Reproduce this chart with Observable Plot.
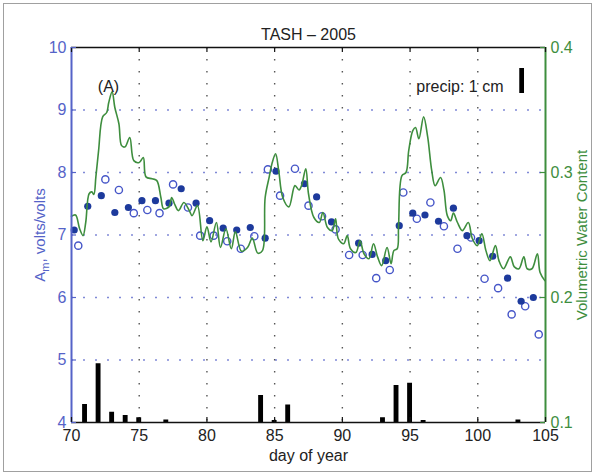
<!DOCTYPE html>
<html><head><meta charset="utf-8">
<script src="https://cdn.jsdelivr.net/npm/d3@7"></script>
<script src="https://cdn.jsdelivr.net/npm/@observablehq/plot@0.6"></script>
<style>
body{margin:0;background:#fff;}
#wrap{position:relative;width:596px;height:476px;overflow:hidden;}
#wrap svg{display:block;}
#border{position:absolute;left:3px;top:3px;width:589px;height:469px;border:1px solid #a0a0a0;box-sizing:border-box;pointer-events:none;}
</style></head><body><div id="wrap"><div id="border"></div></div>
<script>
// ---- data ----
const titleText = "TASH – 2005";
const xTicks = [70, 75, 80, 85, 90, 95, 100, 105];
const xGrid = [75, 80, 85, 90, 95, 100];
const leftTicks = [4, 5, 6, 7, 8, 9, 10];
const leftGrid = [5, 6, 7, 8, 9];
const vwcTicks = [0.1, 0.2, 0.3, 0.4];

// A_m, filled circles
const filledDay = [70.2,71.2,72.2,73.2,74.2,75.2,76.2,77.2,78.1,79.2,80.2,81.2,82.2,83.2,84.3,85.1,87.2,88.1,89.2,91.2,92.2,93.2,94.2,95.2,96.1,97.1,98.2,99.2,100.1,101.1,102.2,103.2,104.1];
const filledA   = [7.08,7.46,7.63,7.36,7.44,7.55,7.55,7.51,7.74,7.51,7.23,7.11,7.08,7.12,6.95,8.02,7.82,7.61,7.21,6.87,6.69,6.59,7.15,7.35,7.32,7.22,7.43,6.99,6.91,6.66,6.31,5.94,6.00];
// A_m, open circles
const openDay = [70.5,72.5,73.5,74.6,75.6,76.5,77.5,78.6,79.5,80.5,81.5,82.5,83.5,84.5,85.4,86.5,87.5,88.5,89.5,90.5,91.5,92.5,93.5,94.5,95.5,96.5,97.5,98.5,99.5,100.5,101.5,102.5,103.5,104.5];
const openA   = [6.83,7.89,7.72,7.35,7.40,7.35,7.81,7.44,6.99,6.99,6.90,6.78,6.98,8.05,7.63,8.06,7.47,7.30,7.09,6.68,6.68,6.31,6.44,7.68,7.26,7.52,7.14,6.78,6.96,6.30,6.15,5.73,5.86,5.41];

// Volumetric water content (right axis)
const vwcDay = [70.0,70.3,70.6,70.85,71.05,71.3,71.5,71.65,71.8,72.0,72.3,72.6,72.75,73.0,73.2,73.5,73.7,73.95,74.3,74.6,75.0,75.3,75.5,75.96,76.3,76.6,76.8,77.2,77.4,77.6,77.9,78.3,78.7,78.9,79.3,79.7,80.0,80.3,80.7,81.0,81.4,81.8,82.1,82.55,83.0,83.35,83.75,84.1,84.3,84.6,84.8,85.07,85.3,85.6,86.05,86.5,86.8,87.0,87.3,87.5,87.9,88.3,88.56,88.9,89.25,89.5,89.7,90.1,90.36,90.6,91.0,91.3,91.6,91.96,92.3,92.6,92.9,93.3,93.6,93.8,94.05,94.15,94.4,94.7,94.9,95.2,95.4,95.65,96.0,96.3,96.6,96.85,97.25,97.5,97.75,98.0,98.2,98.5,98.86,99.3,99.6,99.96,100.3,100.6,100.9,101.3,101.56,101.9,102.4,102.7,103.04,103.4,103.65,104.0,104.4,104.6,104.95];
const vwcVal = [0.265,0.266,0.255,0.2495,0.26,0.283,0.2845,0.2825,0.2965,0.3175,0.3445,0.348,0.356,0.3645,0.352,0.339,0.3215,0.3205,0.328,0.3095,0.308,0.312,0.2965,0.295,0.2935,0.28,0.271,0.2725,0.28,0.275,0.2695,0.276,0.2695,0.2655,0.2735,0.2455,0.2565,0.2445,0.26,0.24,0.255,0.239,0.2525,0.237,0.24,0.2475,0.2355,0.2375,0.28,0.2965,0.307,0.315,0.3015,0.28,0.2725,0.2895,0.286,0.29,0.303,0.283,0.264,0.26,0.268,0.256,0.2535,0.263,0.247,0.243,0.2495,0.239,0.236,0.2455,0.235,0.231,0.243,0.2325,0.2255,0.24,0.227,0.2375,0.239,0.2575,0.2975,0.30,0.3175,0.3335,0.336,0.327,0.3445,0.3285,0.3015,0.2895,0.296,0.286,0.2655,0.2615,0.2675,0.26,0.2535,0.26,0.247,0.2415,0.251,0.2375,0.2295,0.2415,0.2295,0.223,0.2325,0.2245,0.223,0.2325,0.223,0.223,0.235,0.22,0.2135];

// Daily precipitation, cm
const precipDay = [71,72,73,74,75,77,84,85,86,93,94,95,96,103];
const precipCm  = [0.72,2.35,0.41,0.28,0.19,0.10,1.08,0.08,0.70,0.19,1.48,1.57,0.08,0.10];
const legendCm = [1];

// ---- build ----
const precipUnit = 0.4; // left-axis units per cm of precipitation
const toLeft = v => 4 + (v - 0.1) / 0.05;
const fromLeft = a => 0.1 + (a - 4) * 0.05;
const filled = filledDay.map((d, i) => ({day: d, a: filledA[i]}));
const open = openDay.map((d, i) => ({day: d, a: openA[i]}));
const vwc = vwcDay.map((d, i) => ({day: d, v: vwcVal[i]}));
const precip = precipDay.map((d, i) => ({day: d, cm: precipCm[i]}));

const BLUE = "#5563c8", GREEN = "#3e8e3e", DOT = "#1d3a9c", RING = "#4656c8", INK = "#222";
const font = "'Liberation Sans', Arial, Helvetica, sans-serif";

const plot = Plot.plot({
  width: 596, height: 476,
  marginTop: 47, marginBottom: 54, marginLeft: 71, marginRight: 51,
  x: {domain: [70, 105], axis: null},
  y: {domain: [4, 10], axis: null},
  style: {fontFamily: font, fontSize: "16px", background: "white", color: INK},
  marks: [
    Plot.ruleX(xGrid, {stroke: "#555", strokeDasharray: "1.5,10.5", strokeWidth: 1.4}),
    Plot.ruleY(leftGrid, {stroke: BLUE, strokeDasharray: "2,10", strokeWidth: 1.5, strokeOpacity: 0.75}),
    Plot.rect(precip, {x1: d => d.day - 0.18, x2: d => d.day + 0.18, y1: 4, y2: d => 4 + d.cm * precipUnit, fill: "black"}),
    Plot.dot(open, {x: "day", y: "a", r: 3.6, stroke: RING, strokeWidth: 1.4, fill: "none"}),
    Plot.dot(filled, {x: "day", y: "a", r: 3.6, fill: DOT, stroke: "none"}),
    Plot.line(vwc, {x: "day", y: d => toLeft(d.v), stroke: GREEN, strokeWidth: 1.6, curve: "catmull-rom"}),
    // frame
    Plot.ruleY([4, 10], {stroke: "#111", strokeWidth: 1.5}),
    Plot.ruleX([70], {stroke: BLUE, strokeWidth: 2}),
    Plot.ruleX([105], {stroke: GREEN, strokeWidth: 2}),
    // inward ticks
    Plot.ruleX(xTicks, {y1: 4, y2: 4.08, stroke: "#111", strokeWidth: 1.2}),
    Plot.ruleX(xTicks, {y1: 10, y2: 9.92, stroke: "#111", strokeWidth: 1.2}),
    Plot.ruleY(leftTicks, {x1: 70, x2: 70.37, stroke: BLUE, strokeWidth: 1.2}),
    Plot.ruleY(vwcTicks.map(toLeft), {x1: 104.63, x2: 105, stroke: GREEN, strokeWidth: 1.2}),
    // tick labels
    Plot.axisX(xTicks, {tickSize: 0, tickPadding: 7, fill: INK, label: null, fontSize: 16, tickFormat: d => String(d)}),
    Plot.axisY(leftTicks, {anchor: "left", tickSize: 0, tickPadding: 5, fill: BLUE, label: null, fontSize: 16, tickFormat: d => String(d)}),
    Plot.axisY(vwcTicks.map(toLeft), {anchor: "right", tickSize: 0, tickPadding: 5, fill: GREEN, label: null, fontSize: 16, tickFormat: d => fromLeft(d).toFixed(1)}),
    // texts
    Plot.text([titleText], {frameAnchor: "top", dy: -19, fontSize: 16, fill: INK}),
    Plot.text(["day of year"], {frameAnchor: "bottom", dy: 38, fontSize: 16, fill: INK}),
    Plot.text(["Am, volts/volts"], {frameAnchor: "left", dx: -31, rotate: -90, textAnchor: "middle", fontSize: 15, fill: BLUE}),
    Plot.text(["Volumetric Water Content"], {frameAnchor: "right", dx: 37, rotate: -90, textAnchor: "middle", fontSize: 15, fill: GREEN}),
    Plot.text(["(A)"], {frameAnchor: "top-left", dx: 37, dy: 33, textAnchor: "middle", fontSize: 16, fill: INK}),
    Plot.text(["precip: 1 cm"], {frameAnchor: "top-right", dx: -42, dy: 33, textAnchor: "end", fontSize: 16, fill: INK}),
    Plot.rect(legendCm, {x1: 103.1, x2: 103.45, y1: 9.264, y2: d => 9.264 + d * precipUnit, fill: "black"})
  ]
});

// subscript m in the left axis label
d3.select(plot).selectAll("text").filter(function() { return this.textContent === "Am, volts/volts"; })
  .each(function() {
    const t = d3.select(this);
    t.text(null);
    t.append("tspan").text("A");
    t.append("tspan").attr("font-size", 11).attr("dy", 4).text("m");
    t.append("tspan").attr("dy", -4).text(", volts/volts");
  });

document.getElementById("wrap").prepend(plot);
</script>
</body></html>
